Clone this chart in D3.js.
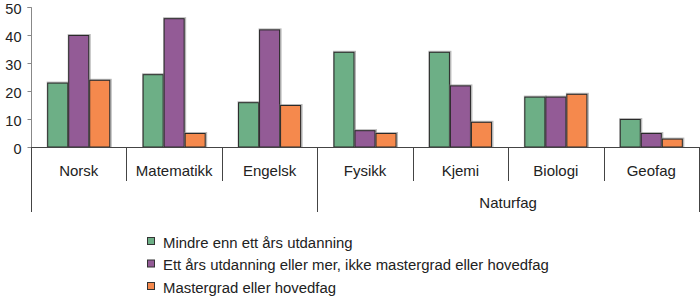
<!DOCTYPE html>
<html><head><meta charset="utf-8">
<script src="https://cdn.jsdelivr.net/npm/d3@7"></script>
<style>body{margin:0;background:#fff}svg{display:block;font-family:"Liberation Sans",Arial,sans-serif}</style>
</head><body><svg id="c" width="700" height="304"></svg>
<script>
const categories = ["Norsk","Matematikk","Engelsk","Fysikk","Kjemi","Biologi","Geofag"];
const seriesNames = ["Mindre enn ett års utdanning","Ett års utdanning eller mer, ikke mastergrad eller hovedfag","Mastergrad eller hovedfag"];
const mindre = [23,26,16,34,34,18,10];
const ettAar = [40,46,42,6,22,18,5];
const master = [24,5,15,5,9,19,3];
const yTicks = [0,10,20,30,40,50];
const groupLabel = "Naturfag";
const groupStart = 3;
const colors = ["#6daf86","#935b96","#f5894d"];

const series = [mindre, ettAar, master];
const svg = d3.select("#c");
const x0 = d3.scaleBand().domain(categories).range([31,699]).paddingInner(0).paddingOuter(0);
const x1 = d3.scaleBand().domain(d3.range(3)).range([0,x0.bandwidth()]).paddingOuter(0.77).paddingInner(0);
const y = d3.scaleLinear().domain([0,50]).range([147,7]);

// bars
categories.forEach((c,i)=>{
  series.forEach((s,k)=>{
    const bx = x0(c)+x1(k), by = y(s[i]), bw = x1.bandwidth(), bh = y(0)-y(s[i]);
    svg.append("rect").attr("x",bx-0.5).attr("y",by-1).attr("width",bw+2).attr("height",bh+1)
      .attr("fill","#888").attr("opacity",0.6);
    svg.append("rect").attr("x",bx+0.5).attr("y",by+0.5).attr("width",bw-1).attr("height",bh-0.5)
      .attr("fill",colors[k]).attr("stroke","#2a2a2a").attr("stroke-width",1);
  });
});

// y axis
const yAxis = d3.axisLeft(y).tickValues(yTicks).tickSize(4).tickPadding(6);
const ga = svg.append("g").attr("transform","translate(31.5,0)").call(yAxis);
ga.select(".domain").attr("stroke","#888").attr("d","M-4,7.5H0V147.5");
ga.selectAll(".tick line").attr("stroke","#888");
ga.selectAll(".tick text").attr("font-size",14.5).attr("dy","0.42em").attr("fill","#222").attr("font-family","Liberation Sans, Arial, sans-serif");

// x axis baseline
svg.append("line").attr("x1",31).attr("x2",699).attr("y1",147.5).attr("y2",147.5).attr("stroke","#444");
// separators
const seps = categories.map(c=>x0(c)).concat([699]);
seps.forEach((sx,i)=>{
  const long = (i===0 || i===groupStart || i===categories.length);
  svg.append("line").attr("x1",Math.round(sx)+0.5).attr("x2",Math.round(sx)+0.5)
    .attr("y1",147).attr("y2",long?212:181).attr("stroke","#444");
});
// category labels
svg.selectAll("text.cat").data(categories).enter().append("text").attr("class","cat")
  .attr("x",d=>x0(d)+x0.bandwidth()/2).attr("y",176).attr("text-anchor","middle")
  .attr("font-size",15).attr("fill","#222").text(d=>d);
svg.append("text").attr("x",(x0(categories[groupStart])+699)/2).attr("y",207.5)
  .attr("text-anchor","middle").attr("font-size",15).attr("fill","#222").text(groupLabel);

// legend
const ly = [242,264.5,287];
seriesNames.forEach((n,k)=>{
  svg.append("rect").attr("x",147.5).attr("y",ly[k]-4.5).attr("width",7).attr("height",7)
    .attr("fill",colors[k]).attr("stroke","#333").attr("stroke-width",1);
  svg.append("text").attr("x",163).attr("y",ly[k]+5.5).attr("font-size",14.9).attr("fill","#222").text(n);
});
</script></body></html>
